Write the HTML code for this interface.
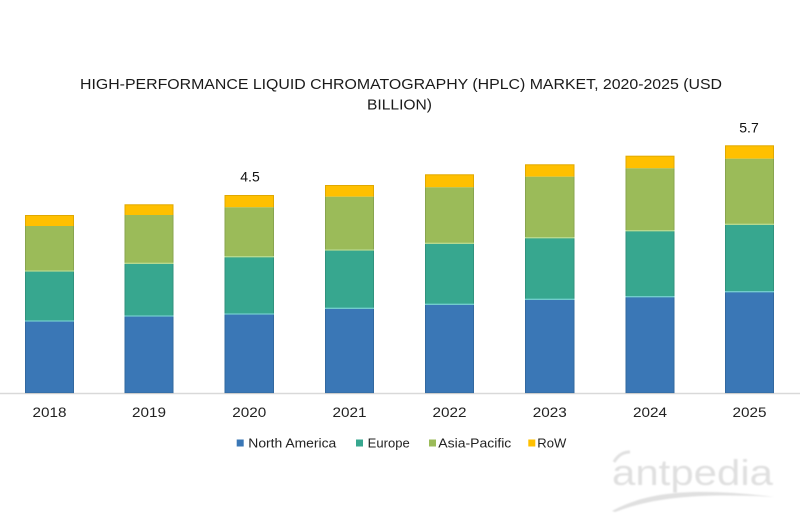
<!DOCTYPE html>
<html><head><meta charset="utf-8"><style>
html,body{margin:0;padding:0;background:#fff;}
svg{display:block;}
</style></head><body>
<svg width="800" height="532" viewBox="0 0 800 532" xmlns="http://www.w3.org/2000/svg" font-family="Liberation Sans, Arial, sans-serif">
<defs>
<filter id="blur" x="-10%" y="-10%" width="120%" height="120%"><feGaussianBlur stdDeviation="0.8"/></filter>
</defs>
<rect width="800" height="532" fill="#ffffff"/>
<text x="80" y="89" font-size="15" fill="#1a1a1a" textLength="642" lengthAdjust="spacingAndGlyphs">HIGH-PERFORMANCE LIQUID CHROMATOGRAPHY (HPLC) MARKET, 2020-2025  (USD</text>
<text x="367" y="109.3" font-size="15" fill="#1a1a1a" textLength="65" lengthAdjust="spacingAndGlyphs">BILLION)</text>

<line x1="0" y1="393.5" x2="800" y2="393.5" stroke="#d9d9d9" stroke-width="1.5"/>

<g>
<!-- 2018 -->
<rect x="25" y="215" width="49" height="11" fill="#ffc000"/>
<rect x="25" y="226" width="49" height="45" fill="#9bbb59"/>
<rect x="25" y="271" width="49" height="50" fill="#37a78f"/>
<rect x="25" y="321" width="49" height="72" fill="#3a77b6"/>
<!-- 2019 -->
<rect x="124.5" y="204.3" width="49" height="10.7" fill="#ffc000"/>
<rect x="124.5" y="215" width="49" height="48.3" fill="#9bbb59"/>
<rect x="124.5" y="263.3" width="49" height="52.7" fill="#37a78f"/>
<rect x="124.5" y="316" width="49" height="77" fill="#3a77b6"/>
<!-- 2020 -->
<rect x="224.5" y="195" width="49.5" height="12.3" fill="#ffc000"/>
<rect x="224.5" y="207.3" width="49.5" height="49.4" fill="#9bbb59"/>
<rect x="224.5" y="256.7" width="49.5" height="57.3" fill="#37a78f"/>
<rect x="224.5" y="314" width="49.5" height="79" fill="#3a77b6"/>
<!-- 2021 -->
<rect x="325" y="185" width="49" height="11.7" fill="#ffc000"/>
<rect x="325" y="196.7" width="49" height="53.3" fill="#9bbb59"/>
<rect x="325" y="250" width="49" height="58.3" fill="#37a78f"/>
<rect x="325" y="308.3" width="49" height="84.7" fill="#3a77b6"/>
<!-- 2022 -->
<rect x="425" y="174.3" width="49" height="13" fill="#ffc000"/>
<rect x="425" y="187.3" width="49" height="56" fill="#9bbb59"/>
<rect x="425" y="243.3" width="49" height="61" fill="#37a78f"/>
<rect x="425" y="304.3" width="49" height="88.7" fill="#3a77b6"/>
<!-- 2023 -->
<rect x="525" y="164.3" width="49.5" height="12.4" fill="#ffc000"/>
<rect x="525" y="176.7" width="49.5" height="61" fill="#9bbb59"/>
<rect x="525" y="237.7" width="49.5" height="61.6" fill="#37a78f"/>
<rect x="525" y="299.3" width="49.5" height="93.7" fill="#3a77b6"/>
<!-- 2024 -->
<rect x="625.5" y="155.7" width="49" height="12.6" fill="#ffc000"/>
<rect x="625.5" y="168.3" width="49" height="62.4" fill="#9bbb59"/>
<rect x="625.5" y="230.7" width="49" height="66" fill="#37a78f"/>
<rect x="625.5" y="296.7" width="49" height="96.3" fill="#3a77b6"/>
<!-- 2025 -->
<rect x="725" y="145.3" width="49" height="13.4" fill="#ffc000"/>
<rect x="725" y="158.7" width="49" height="65.6" fill="#9bbb59"/>
<rect x="725" y="224.3" width="49" height="67.4" fill="#37a78f"/>
<rect x="725" y="291.7" width="49" height="101.3" fill="#3a77b6"/>
</g>
<!-- bar edges -->
<g fill="none" stroke="#000" stroke-opacity="0.12" stroke-width="1">
<rect x="25.5" y="215.5" width="48" height="177.5"/>
<rect x="125" y="204.8" width="48" height="188.2"/>
<rect x="225" y="195.5" width="48.5" height="197.5"/>
<rect x="325.5" y="185.5" width="48" height="207.5"/>
<rect x="425.5" y="174.8" width="48" height="218.2"/>
<rect x="525.5" y="164.8" width="48.5" height="228.2"/>
<rect x="626" y="156.2" width="48" height="236.8"/>
<rect x="725.5" y="145.8" width="48" height="247.2"/>
</g>
<!-- separators -->
<g stroke-width="1.3">
<line x1="25" x2="74" y1="271" y2="271" stroke="#b6d88e"/>
<line x1="25" x2="74" y1="321" y2="321" stroke="#72cccc"/>
<line x1="124.5" x2="173.5" y1="263.3" y2="263.3" stroke="#b6d88e"/>
<line x1="124.5" x2="173.5" y1="316" y2="316" stroke="#72cccc"/>
<line x1="224.5" x2="274" y1="256.7" y2="256.7" stroke="#b6d88e"/>
<line x1="224.5" x2="274" y1="314" y2="314" stroke="#72cccc"/>
<line x1="325" x2="374" y1="250" y2="250" stroke="#b6d88e"/>
<line x1="325" x2="374" y1="308.3" y2="308.3" stroke="#72cccc"/>
<line x1="425" x2="474" y1="243.3" y2="243.3" stroke="#b6d88e"/>
<line x1="425" x2="474" y1="304.3" y2="304.3" stroke="#72cccc"/>
<line x1="525" x2="574.5" y1="237.7" y2="237.7" stroke="#b6d88e"/>
<line x1="525" x2="574.5" y1="299.3" y2="299.3" stroke="#72cccc"/>
<line x1="625.5" x2="674.5" y1="230.7" y2="230.7" stroke="#b6d88e"/>
<line x1="625.5" x2="674.5" y1="296.7" y2="296.7" stroke="#72cccc"/>
<line x1="725" x2="774" y1="224.3" y2="224.3" stroke="#b6d88e"/>
<line x1="725" x2="774" y1="291.7" y2="291.7" stroke="#72cccc"/>
</g>

<text x="250" y="181.5" font-size="14" fill="#111" text-anchor="middle">4.5</text>
<text x="749" y="132.5" font-size="14" fill="#111" text-anchor="middle">5.7</text>

<g font-size="14" fill="#222">
<text x="32.5" y="417" textLength="34" lengthAdjust="spacingAndGlyphs">2018</text>
<text x="132" y="417" textLength="34" lengthAdjust="spacingAndGlyphs">2019</text>
<text x="232.3" y="417" textLength="34" lengthAdjust="spacingAndGlyphs">2020</text>
<text x="332.5" y="417" textLength="34" lengthAdjust="spacingAndGlyphs">2021</text>
<text x="432.5" y="417" textLength="34" lengthAdjust="spacingAndGlyphs">2022</text>
<text x="532.8" y="417" textLength="34" lengthAdjust="spacingAndGlyphs">2023</text>
<text x="633" y="417" textLength="34" lengthAdjust="spacingAndGlyphs">2024</text>
<text x="732.5" y="417" textLength="34" lengthAdjust="spacingAndGlyphs">2025</text>
</g>

<g font-size="12.5" fill="#222">
<rect x="236.7" y="439.5" width="7" height="7" fill="#3a77b6"/>
<text x="248.3" y="447.3" textLength="88" lengthAdjust="spacingAndGlyphs">North  America</text>
<rect x="356" y="439.5" width="7" height="7" fill="#37a78f"/>
<text x="367.7" y="447.3" textLength="42" lengthAdjust="spacingAndGlyphs">Europe</text>
<rect x="429" y="439.5" width="7" height="7" fill="#9bbb59"/>
<text x="438.3" y="447.3" textLength="73" lengthAdjust="spacingAndGlyphs">Asia-Pacific</text>
<rect x="528.3" y="439.5" width="7" height="7" fill="#ffc000"/>
<text x="537.3" y="447.3" textLength="29" lengthAdjust="spacingAndGlyphs">RoW</text>
</g>

<!-- watermark -->
<g filter="url(#blur)">
<text x="612" y="485" font-size="36" fill="#e0e0e0" textLength="161" lengthAdjust="spacingAndGlyphs">antpedia</text>
<path d="M612 511 C650 490, 700 488, 775 497 C700 493, 655 497, 615 512 Z" fill="#e0e0e0"/>
<path d="M614 462 C618 455, 624 452, 630 452" stroke="#e0e0e0" stroke-width="3" fill="none"/>
</g>
</svg>
</body></html>
